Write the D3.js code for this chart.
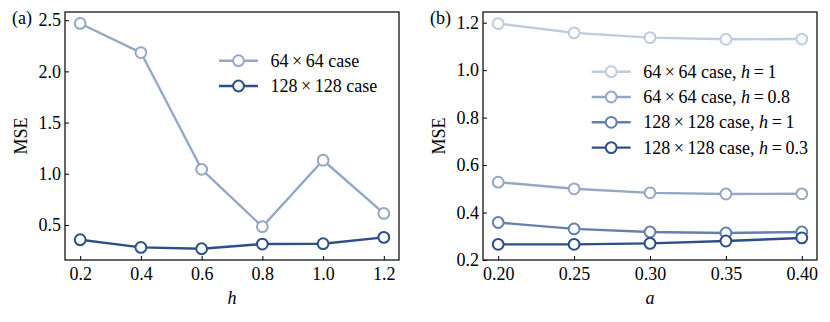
<!DOCTYPE html>
<html><head><meta charset="utf-8">
<script src="https://cdn.jsdelivr.net/npm/d3@7"></script>
<style>
body{margin:0;background:#fff;}
text{font-family:"Liberation Serif","Times New Roman",serif;fill:#000;}
</style></head>
<body><svg id="c" width="830" height="322"></svg>
<script>
// Panel (a)
const hValues = [0.2, 0.4, 0.6, 0.8, 1.0, 1.2];
const mse64 = [2.468, 2.184, 1.044, 0.483, 1.132, 0.613];
const mse128 = [0.356, 0.281, 0.268, 0.314, 0.317, 0.379];
const ticksA_x = [0.2, 0.4, 0.6, 0.8, 1.0, 1.2];
const ticksA_y = [0.5, 1.0, 1.5, 2.0, 2.5];
const namesA = ["64\u2009\u00D7\u200964 case", "128\u2009\u00D7\u2009128 case"];

// Panel (b)
const aValues = [0.20, 0.25, 0.30, 0.35, 0.40];
const b64h1 = [1.196, 1.157, 1.137, 1.130, 1.131];
const b64h08 = [0.528, 0.500, 0.483, 0.478, 0.479];
const b128h1 = [0.358, 0.331, 0.318, 0.314, 0.318];
const b128h03 = [0.266, 0.266, 0.270, 0.280, 0.293];
const ticksB_x = [0.20, 0.25, 0.30, 0.35, 0.40];
const ticksB_y = [0.2, 0.4, 0.6, 0.8, 1.0, 1.2];

const svg = d3.select("#c");
const colA = ["#94a8c6", "#2b4f86"];
const colB = ["#bfcce0", "#94a8c6", "#6580ad", "#2b4f86"];
const FS = 18;

function panel(opt){
  const g = svg.append("g");
  const x = d3.scaleLinear().domain(opt.xd).range([opt.x0, opt.x1]);
  const y = d3.scaleLinear().domain(opt.yd).range([opt.y1, opt.y0]);
  opt.series.forEach((s,i)=>{
    const line = d3.line().x((d,j)=>x(opt.xv[j])).y(d=>y(d));
    g.append("path").attr("d", line(s.v)).attr("fill","none")
      .attr("stroke", s.c).attr("stroke-width", 2.4);
    g.selectAll(null).data(s.v).enter().append("circle")
      .attr("cx",(d,j)=>x(opt.xv[j])).attr("cy",d=>y(d)).attr("r",5.4)
      .attr("fill","#fff").attr("stroke",s.c).attr("stroke-width",2);
  });
  g.append("rect").attr("x",opt.x0).attr("y",opt.y0).attr("width",opt.x1-opt.x0)
    .attr("height",opt.y1-opt.y0).attr("fill","none").attr("stroke","#000").attr("stroke-width",1.2);
  const ax = d3.axisBottom(x).tickValues(opt.xt).tickFormat(opt.xf).tickSizeInner(-4).tickSizeOuter(0).tickPadding(7);
  const ay = d3.axisLeft(y).tickValues(opt.yt).tickFormat(opt.yf).tickSizeInner(-4).tickSizeOuter(0).tickPadding(4);
  const gx = g.append("g").attr("transform",`translate(0,${opt.y1})`).call(ax);
  const gy = g.append("g").attr("transform",`translate(${opt.x0},0)`).call(ay);
  [gx,gy].forEach(a=>{
    a.select(".domain").remove();
    a.selectAll("line").attr("stroke","#000").attr("stroke-width",1);
    a.selectAll("text").attr("font-size",FS).attr("font-family","Liberation Serif");
  });
  g.append("text").attr("x",(opt.x0+opt.x1)/2).attr("y",304).attr("text-anchor","middle")
    .attr("font-size",FS).attr("font-style","italic").text(opt.xl);
  g.append("text").attr("transform",`translate(${opt.x0-38},${(opt.y0+opt.y1)/2}) rotate(-90)`)
    .attr("text-anchor","middle").attr("font-size",FS).text("MSE");
  g.append("text").attr("x",opt.x0-53).attr("y",24).attr("font-size",FS).text(opt.tag);
  opt.series.forEach((s,i)=>{
    const ly = opt.ly + i*opt.ld;
    g.append("line").attr("x1",opt.lx).attr("x2",opt.lx+39).attr("y1",ly).attr("y2",ly)
      .attr("stroke",s.c).attr("stroke-width",2.4);
    g.append("circle").attr("cx",opt.lx+19.5).attr("cy",ly).attr("r",5.4)
      .attr("fill","#fff").attr("stroke",s.c).attr("stroke-width",2);
    const t = g.append("text").attr("x",opt.lx+51.5).attr("y",ly+6).attr("font-size",FS);
    s.label.forEach(p=>{
      const ts = t.append("tspan").text(p.t);
      if(p.i) ts.attr("font-style","italic");
    });
  });
}

panel({x0:65,x1:399,y0:12,y1:260,xd:[0.15,1.25],yd:[0.158,2.58],xv:hValues,
  xt:ticksA_x, yt:ticksA_y, xf:d3.format(".1f"), yf:d3.format(".1f"), xl:"h", tag:"(a)",
  lx:219, ly:60.7, ld:25.3,
  series:[{v:mse64,c:colA[0],label:[{t:namesA[0]}]},{v:mse128,c:colA[1],label:[{t:namesA[1]}]}]});

panel({x0:483,x1:817,y0:12,y1:260,xd:[0.19,0.41],yd:[0.2,1.245],xv:aValues,
  xt:ticksB_x, yt:ticksB_y, xf:d3.format(".2f"), yf:d3.format(".1f"), xl:"a", tag:"(b)",
  lx:591.7, ly:71.7, ld:25.3,
  series:[
    {v:b64h1,c:colB[0],label:[{t:"64\u2009\u00D7\u200964 case, "},{t:"h",i:1},{t:"\u2009=\u20091"}]},
    {v:b64h08,c:colB[1],label:[{t:"64\u2009\u00D7\u200964 case, "},{t:"h",i:1},{t:"\u2009=\u20090.8"}]},
    {v:b128h1,c:colB[2],label:[{t:"128\u2009\u00D7\u2009128 case, "},{t:"h",i:1},{t:"\u2009=\u20091"}]},
    {v:b128h03,c:colB[3],label:[{t:"128\u2009\u00D7\u2009128 case, "},{t:"h",i:1},{t:"\u2009=\u20090.3"}]}
  ]});
</script></body></html>
